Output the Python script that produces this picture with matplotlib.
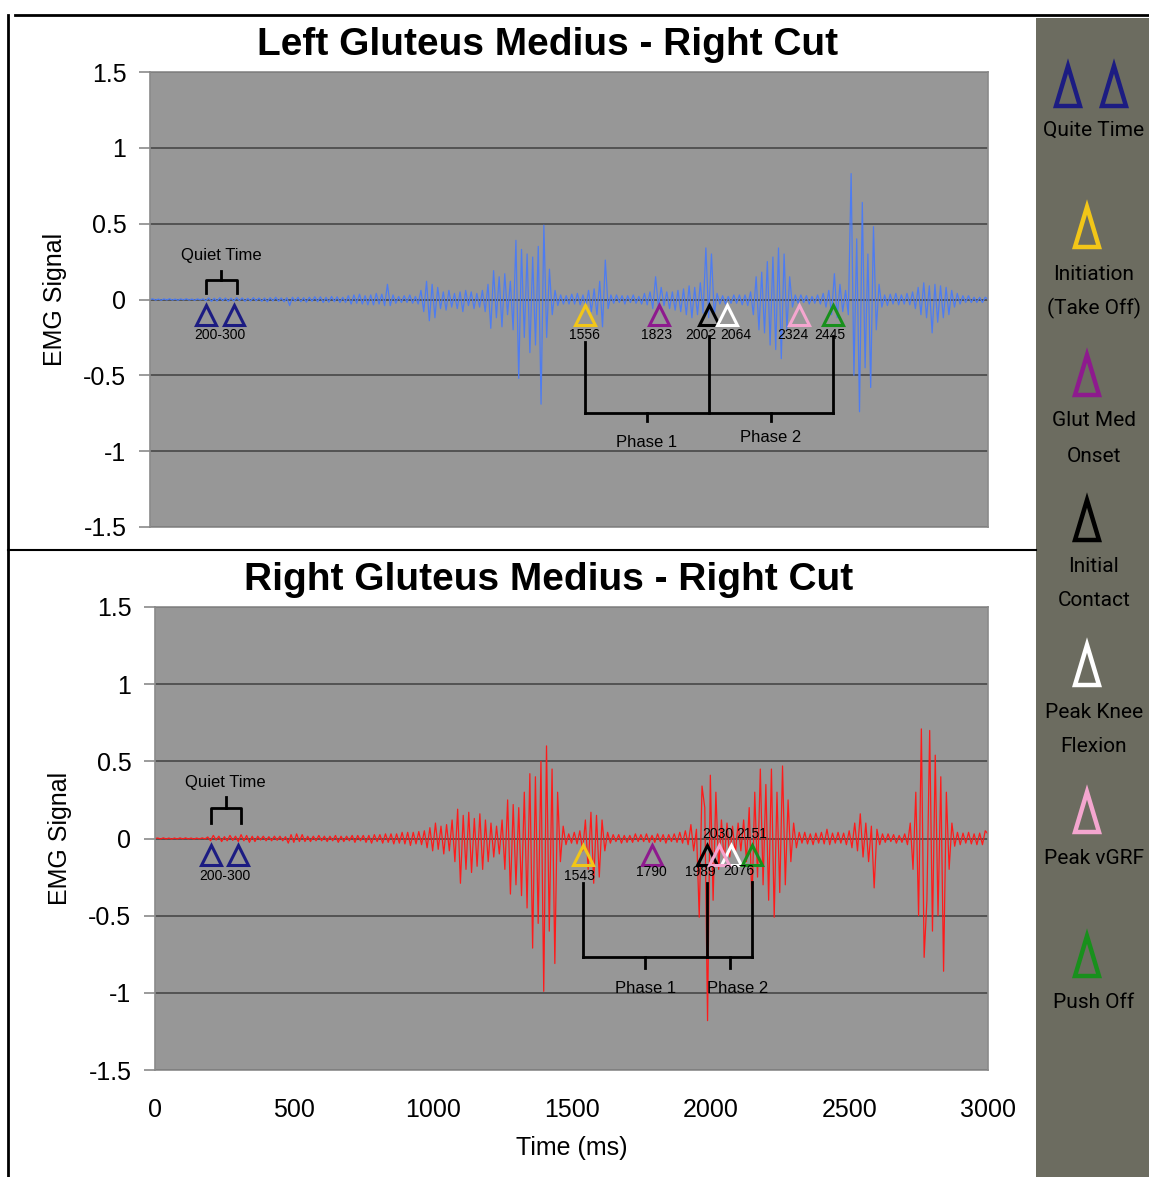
import numpy as np
import matplotlib.pyplot as plt
from matplotlib.lines import Line2D
from matplotlib.patches import Polygon, Rectangle

plt.rcParams['font.family'] = ['Liberation Sans', 'DejaVu Sans']

# EMG traces, one value every 10 ms from 0 to 3000 ms
time_ms = np.arange(0, 3001, 10)

left_emg = [
    0.000, 0.004, -0.004, 0.003, -0.005, 0.004, -0.003, 0.005, -0.004, 0.003,
    -0.005, 0.004, -0.003, 0.005, -0.004, 0.003, -0.005, 0.004, -0.003, 0.005,
    -0.008, 0.010, -0.012, 0.008, -0.010, 0.012, -0.008, 0.010, -0.012, 0.009,
    -0.010, 0.012, -0.008, 0.010, -0.012, 0.008, -0.010, 0.012, -0.009, 0.010,
    -0.012, 0.010, -0.015, 0.012, -0.010, 0.015, -0.012, 0.010, -0.015, 0.012,
    -0.040, 0.015, -0.012, 0.015, -0.015, 0.012, -0.018, 0.015, -0.012, 0.018,
    -0.015, 0.018, -0.020, 0.015, -0.018, 0.020, -0.015, 0.018, -0.020, 0.015,
    -0.020, 0.025, -0.030, 0.030, -0.025, 0.035, -0.030, 0.025, -0.035, 0.030,
    -0.035, 0.040, -0.030, 0.035, -0.040, 0.100, -0.040, 0.030, -0.025, 0.020,
    -0.020, 0.025, -0.020, 0.030, -0.025, 0.020, -0.030, 0.060, -0.080, 0.120,
    -0.140, 0.100, -0.120, 0.080, -0.060, 0.050, -0.070, 0.060, -0.050, 0.040,
    -0.060, 0.050, -0.080, 0.060, -0.040, 0.050, -0.060, 0.040, -0.050, 0.060,
    -0.080, 0.100, -0.190, 0.190, -0.120, 0.150, -0.180, 0.170, -0.100, 0.120,
    -0.200, 0.390, -0.520, 0.330, -0.250, 0.300, -0.350, 0.280, -0.300, 0.350,
    -0.690, 0.490, -0.250, 0.200, -0.100, 0.060, -0.040, 0.030, -0.030, 0.025,
    -0.030, 0.035, -0.030, 0.040, -0.035, 0.030, -0.050, 0.060, -0.080, 0.070,
    -0.100, 0.120, -0.180, 0.260, -0.060, 0.030, -0.025, 0.030, -0.020, 0.025,
    -0.030, 0.025, -0.020, 0.030, -0.025, 0.020, -0.030, 0.040, -0.035, 0.050,
    -0.060, 0.150, -0.050, 0.080, -0.040, 0.050, -0.060, 0.050, -0.070, 0.060,
    -0.080, 0.070, -0.100, 0.090, -0.120, 0.080, -0.100, 0.110, -0.090, 0.340,
    -0.120, 0.300, -0.100, 0.040, -0.030, 0.025, -0.030, 0.020, -0.025, 0.030,
    -0.025, 0.030, -0.035, 0.030, -0.040, 0.050, -0.100, 0.150, -0.200, 0.180,
    -0.220, 0.250, -0.300, 0.280, -0.330, 0.340, -0.390, 0.300, -0.200, 0.150,
    -0.050, 0.030, -0.025, 0.030, -0.020, 0.025, -0.030, 0.020, -0.025, 0.030,
    -0.030, 0.040, -0.050, 0.060, -0.100, 0.170, -0.120, 0.100, -0.080, 0.060,
    -0.100, 0.830, -0.500, 0.400, -0.740, 0.640, -0.450, 0.300, -0.580, 0.480,
    -0.200, 0.100, -0.050, 0.030, -0.040, 0.035, -0.030, 0.040, -0.035, 0.030,
    -0.030, 0.040, -0.035, 0.050, -0.060, 0.080, -0.100, 0.110, -0.120, 0.090,
    -0.220, 0.100, -0.150, 0.090, -0.120, 0.080, -0.100, 0.060, -0.050, 0.040,
    -0.030, 0.025, -0.020, 0.025, -0.020, 0.015, -0.020, 0.015, -0.020, 0.015,
    0.000,
]

right_emg = [
    0.000, 0.003, -0.003, 0.004, -0.003, 0.003, -0.004, 0.003, -0.003, 0.004,
    -0.003, 0.004, -0.003, 0.003, -0.004, 0.003, -0.003, 0.004, -0.003, 0.010,
    -0.015, 0.020, -0.010, 0.015, -0.020, 0.012, -0.015, 0.020, -0.012, 0.015,
    -0.020, 0.025, -0.015, 0.020, -0.025, 0.015, -0.020, 0.015, -0.010, 0.015,
    -0.015, 0.012, -0.015, 0.015, -0.012, 0.015, -0.015, 0.012, -0.030, 0.025,
    -0.025, 0.030, -0.020, 0.025, -0.020, 0.015, -0.020, 0.015, -0.015, 0.020,
    -0.015, 0.015, -0.020, 0.015, -0.015, 0.020, -0.025, 0.015, -0.020, 0.015,
    -0.015, 0.020, -0.025, 0.020, -0.015, 0.020, -0.025, 0.020, -0.030, 0.025,
    -0.020, 0.025, -0.030, 0.030, -0.025, 0.030, -0.035, 0.030, -0.030, 0.040,
    -0.035, 0.040, -0.045, 0.040, -0.035, 0.045, -0.040, 0.050, -0.060, 0.070,
    -0.080, 0.100, -0.070, 0.080, -0.100, 0.090, -0.080, 0.120, -0.150, 0.190,
    -0.290, 0.150, -0.200, 0.170, -0.220, 0.130, -0.180, 0.160, -0.200, 0.120,
    -0.150, 0.100, -0.120, 0.080, -0.100, 0.120, -0.200, 0.250, -0.360, 0.220,
    -0.300, 0.200, -0.370, 0.300, -0.450, 0.420, -0.710, 0.400, -0.550, 0.500,
    -0.990, 0.600, -0.600, 0.450, -0.810, 0.300, -0.150, 0.080, -0.040, 0.030,
    -0.030, 0.040, -0.035, 0.050, -0.080, 0.120, -0.200, 0.170, -0.290, 0.150,
    -0.250, 0.120, -0.080, 0.040, -0.030, 0.025, -0.020, 0.025, -0.030, 0.020,
    -0.025, 0.020, -0.025, 0.030, -0.020, 0.025, -0.020, 0.030, -0.025, 0.020,
    -0.025, 0.030, -0.020, 0.025, -0.030, 0.025, -0.020, 0.030, -0.025, 0.040,
    -0.030, 0.050, -0.040, 0.090, -0.080, 0.060, -0.510, 0.340, 0.200, -1.180,
    0.410, -0.400, 0.300, -0.200, 0.120, -0.150, 0.100, -0.120, 0.080, -0.100,
    0.100, -0.080, 0.120, -0.150, 0.200, -0.420, 0.300, -0.250, 0.450, -0.300,
    0.350, -0.400, 0.450, -0.510, 0.300, -0.350, 0.470, -0.300, 0.250, -0.150,
    0.100, -0.060, 0.040, -0.030, 0.040, -0.035, 0.030, -0.040, 0.035, -0.030,
    0.040, -0.035, 0.060, -0.040, 0.035, -0.030, 0.040, -0.030, 0.035, -0.040,
    0.050, -0.060, 0.100, -0.080, 0.160, -0.120, 0.100, -0.150, 0.080, -0.320,
    0.060, -0.040, 0.030, -0.025, 0.030, -0.020, 0.025, -0.030, 0.020, -0.025,
    0.030, -0.040, 0.100, -0.200, 0.300, -0.500, 0.710, -0.770, -0.400, 0.700,
    -0.600, 0.540, -0.500, 0.400, -0.860, 0.300, -0.200, 0.100, -0.050, 0.040,
    -0.040, 0.035, -0.030, 0.040, -0.035, 0.030, -0.040, 0.035, -0.040, 0.050,
    0.030,
]

# event markers (ms) and where their number labels sit
event_colors = ['#1c1c82', '#1c1c82', '#f2c618', '#8e1a8e', '#000000',
                '#ffffff', '#f4a6cf', '#18901c']
left_events = [200, 300, 1556, 1823, 2002, 2064, 2324, 2445]
left_label_x = [None, None, 1554, 1815, 1973, 2098, 2302, 2435]
right_events = [200, 300, 1543, 1790, 1989, 2076, 2030, 2151]
right_label_x = [None, None, 1530, 1786, 1963, 2103, 2027, 2150]
right_label_y = [None, None, -0.245, -0.22, -0.22, -0.21, 0.03, 0.03]

yticks = [1.5, 1, 0.5, 0, -0.5, -1, -1.5]
ytick_labels = ['1.5', '1', '0.5', '0', '-0.5', '-1', '-1.5']
xticks = [0, 500, 1000, 1500, 2000, 2500, 3000]

W, H = 1149, 1177
fig = plt.figure(figsize=(W / 100, H / 100), dpi=100)


def style_axes(ax, title, tx):
    ax.set_facecolor('#979797')
    ax.set_xlim(0, 3000)
    ax.set_ylim(-1.5, 1.5)
    ax.set_yticks(yticks)
    ax.set_yticklabels(ytick_labels, fontsize=18)
    ax.yaxis.grid(True, color='#4d4d4d', lw=1.3)
    ax.set_axisbelow(True)
    ax.tick_params(axis='y', length=8, width=1.2, color='#8a8a8a', pad=9)
    for sp in ax.spines.values():
        sp.set_color('#8a8a8a')
        sp.set_linewidth(1.2)
    ax.set_ylabel('EMG Signal', fontsize=18, labelpad=12)
    ax.set_title(title, fontsize=28, fontweight='bold', pad=12, x=tx)


def quiet_bracket(ax, y0, y1, y2, ytxt):
    ax.plot([200, 200, 310, 310], [y0, y1, y1, y0], color='black', lw=2)
    ax.plot([255, 255], [y1, y2], color='black', lw=2)
    ax.text(255, ytxt, 'Quiet Time', ha='center', va='center', fontsize=12)


def phase_bracket(ax, t, ytop, ybar, ytick, ylab1, ylab2, dx2=0):
    for tt, yt in zip(t, ytop):
        ax.plot([tt, tt], [yt, ybar], color='black', lw=2)
    ax.plot([t[0], t[2]], [ybar, ybar], color='black', lw=2)
    m1 = (t[0] + t[1]) / 2
    m2 = (t[1] + t[2]) / 2
    ax.plot([m1, m1], [ybar, ytick], color='black', lw=2)
    ax.plot([m2, m2], [ybar, ytick], color='black', lw=2)
    ax.text(m1, ylab1, 'Phase 1', ha='center', va='center', fontsize=12)
    ax.text(m2 + dx2, ylab2, 'Phase 2', ha='center', va='center', fontsize=12)


# ---- top plot
ax1 = fig.add_axes([150 / W, 1 - 527 / H, 838 / W, 455 / H])
style_axes(ax1, 'Left Gluteus Medius - Right Cut', 0.474)
ax1.set_xticks([])
ax1.plot(time_ms, left_emg, color='#4d7cf2', lw=0.9)
for t, c in zip(left_events, event_colors):
    ax1.plot(t, -0.105, marker='^', ms=14, mfc='none', mec=c, mew=2.2, ls='none')
ax1.text(250, -0.235, '200-300', ha='center', va='center', fontsize=10)
for t, lx in zip(left_events[2:], left_label_x[2:]):
    ax1.text(lx, -0.235, str(t), ha='center', va='center', fontsize=10)
quiet_bracket(ax1, 0.04, 0.13, 0.19, 0.29)
phase_bracket(ax1, [left_events[2], left_events[4], left_events[7]],
              [-0.28, -0.24, -0.24], -0.75, -0.80, -0.94, -0.91)

# ---- bottom plot
ax2 = fig.add_axes([155 / W, 1 - 1070 / H, 833 / W, 463 / H])
style_axes(ax2, 'Right Gluteus Medius - Right Cut', 0.473)
ax2.set_xticks(xticks)
ax2.set_xticklabels([str(x) for x in xticks], fontsize=18)
ax2.tick_params(axis='x', length=0, pad=20)
ax2.set_xlabel('Time (ms)', fontsize=18, labelpad=10)
ax2.plot(time_ms, right_emg, color='#ff1a1a', lw=0.9)
for t, c in zip(right_events, event_colors):
    ax2.plot(t, -0.105, marker='^', ms=14, mfc='none', mec=c, mew=2.2, ls='none')
ax2.text(250, -0.24, '200-300', ha='center', va='center', fontsize=10)
for t, lx, ly in zip(right_events[2:], right_label_x[2:], right_label_y[2:]):
    ax2.text(lx, ly, str(t), ha='center', va='center', fontsize=10)
quiet_bracket(ax2, 0.10, 0.20, 0.27, 0.36)
phase_bracket(ax2, [right_events[2], right_events[4], right_events[7]],
              [-0.29, -0.29, -0.28], -0.765, -0.84, -0.97, -0.97, dx2=30)

# ---- frame lines
fig.add_artist(Line2D([8 / W, 8 / W], [0, 1 - 15 / H], color='black', lw=2))
fig.add_artist(Line2D([15 / W, 1], [1 - 15 / H, 1 - 15 / H], color='black', lw=2))
fig.add_artist(Line2D([8 / W, 1036 / W], [1 - 550 / H, 1 - 550 / H], color='black', lw=1.5))

# ---- legend panel (pixel coordinates)
lg = fig.add_axes([1036 / W, 0, 113 / W, (H - 18) / H])
lg.set_xlim(1036, 1149)
lg.set_ylim(H, 18)
lg.set_axis_off()
lg.add_patch(Rectangle((1036, 18), 113, H - 18, facecolor='#6c6c60', edgecolor='none'))

legend_tris = [(1068, 66, '#1c1c82'), (1114, 66, '#1c1c82'), (1087, 207, '#f2c618'),
               (1087, 355, '#8e1a8e'), (1087, 500, '#000000'), (1087, 645, '#ffffff'),
               (1087, 792, '#f4a6cf'), (1087, 936, '#18901c')]
for cx, top, c in legend_tris:
    lg.add_patch(Polygon([(cx, top), (cx + 12, top + 40), (cx - 12, top + 40)],
                         closed=True, fill=False, edgecolor=c, lw=3.2, joinstyle='miter'))

legend_text = [('Quite Time', 130), ('Initiation', 275), ('(Take Off)', 308),
               ('Glut Med', 420), ('Onset', 456), ('Initial', 567), ('Contact', 601),
               ('Peak Knee', 712), ('Flexion', 746), ('Peak vGRF', 858), ('Push Off', 1003)]
for txt, y in legend_text:
    lg.text(1094, y, txt, ha='center', va='center', fontsize=15,
            family=['Roboto', 'DejaVu Sans'], color='black')

fig.savefig('out.png', dpi=100, facecolor='white')
